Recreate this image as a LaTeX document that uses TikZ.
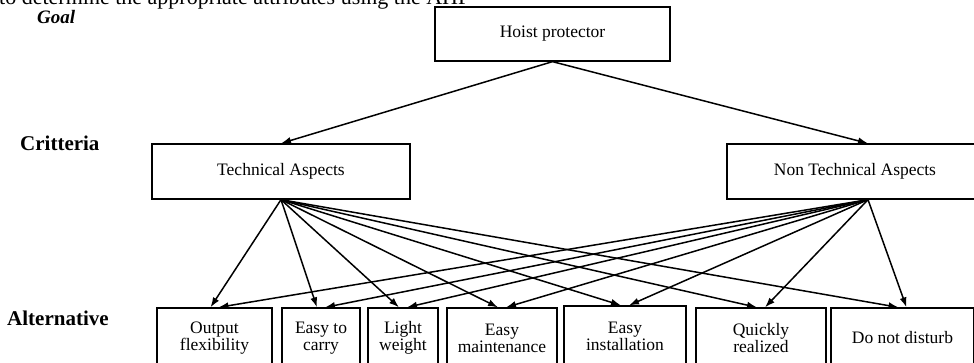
\documentclass[tikz,border=0pt]{standalone}
\usepackage{fontspec}
\setmainfont{Liberation Serif}
\usetikzlibrary{arrows.meta}
\begin{document}
\begin{tikzpicture}[x=1pt,y=-1pt,
  box/.style={draw, line width=1.3pt, inner sep=0pt, align=center, font=\fontsize{17.5}{17}\selectfont},
  boxtext/.style={inner sep=0pt, font=\fontsize{17.5}{17}\selectfont},
  lbl/.style={anchor=base west, inner sep=0pt, font=\fontsize{21}{21}\selectfont\bfseries},
  alt/.style={box, minimum height=60pt},
  arr/.style={line width=1.5pt, -{Latex[length=10pt,width=7pt]}}]
\useasboundingbox (0,0) rectangle (974,362);
\clip (0,0) rectangle (974,362);
\fill[white] (0,0) rectangle (974,362);
% clipped heading line
\node[anchor=base west, inner sep=0pt, font=\fontsize{22}{22}\selectfont] (head) at (-1,4) {to determine the appropriate attributes using the AHP};
% level labels
\node[lbl, font=\fontsize{19}{19}\selectfont\bfseries\itshape] (goal) at (37,23) {Goal};
\node[lbl] (crit) at (20,150) {Critteria};
\node[lbl] (altl) at (7,325) {Alternative};
% goal
\node[box, minimum width=235pt, minimum height=54pt] (hp) at (552.5,34) {Hoist protector};
% criteria
\node[box, minimum width=258pt, minimum height=55pt] (ta) at (281,171.5) {Technical Aspects};
\node[box, minimum width=282pt, minimum height=55pt] (nta) at (868,171.5) {};
\node[boxtext] (ntat) at (855,171.5) {Non Technical Aspects};
% alternatives
\node[alt, minimum width=115pt] (of) at (214.5,338) {Output\\flexibility};
\node[alt, minimum width=78pt] (carry) at (321,338) {Easy to\\carry};
\node[alt, minimum width=70pt] (light) at (403,338) {Light\\weight};
\node[alt, minimum width=110pt] (maint) at (502,338) {Easy\\maintenance};
\node[alt, minimum width=122pt] (inst) at (625,336) {Easy\\installation};
\node[alt, minimum width=130pt] (quick) at (761,338) {Quickly\\realized};
\node[alt, minimum width=143pt] (dnd) at (902.5,338) {Do not disturb};
% connectors
\draw[arr] (hp.south) -- (ta.north);
\draw[arr] (hp.south) -- (nta.north);
\foreach \b in {of,carry,light,maint,inst,quick,dnd}{
  \draw[arr] (ta.south) -- ([xshift=-4pt]\b.north);
  \draw[arr] (nta.south) -- ([xshift=4pt]\b.north);
}
\end{tikzpicture}
\end{document}
